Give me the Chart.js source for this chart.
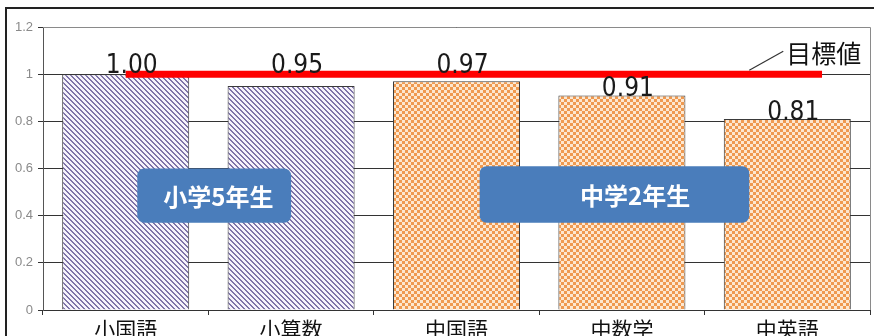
<!DOCTYPE html>
<html>
<head>
<meta charset="utf-8">
<script src="https://cdn.jsdelivr.net/npm/chart.js@4.4.1/dist/chart.umd.min.js"></script>
<style>
    html, body { margin: 0; padding: 0; background: #fff; overflow: hidden; }
    #wrap { position: relative; width: 874px; height: 336px; }
</style>
</head>
<body>
<div id="wrap"><canvas id="chart_scores"></canvas></div>
<script>
'use strict';

// data
const subjects = ['小国語', '小算数', '中国語', '中数学', '中英語'];
const scores = [1.00, 0.95, 0.97, 0.91, 0.81];
const scoreLabels = ['1.00', '0.95', '0.97', '0.91', '0.81'];
const grades = ['小学5年生', '小学5年生', '中学2年生', '中学2年生', '中学2年生'];
const targetValue = 1.0;
const targetLabel = '目標値';
const yTickLabels = {'0': '0', '0.2': '0.2', '0.4': '0.4', '0.6': '0.6', '0.8': '0.8', '1': '1', '1.2': '1.2'};

// look of the annotations (category units on x, values on y)
const TARGET_SPAN = [0, 4.21];
const GROUP_BOXES = {
    '小学5年生': {from: 0.07, to: 1.0, textAt: 0.56, top: 0.6, bottom: 0.37},
    '中学2年生': {from: 2.14, to: 3.77, textAt: 3.08, top: 0.61, bottom: 0.37}
};
const COLORS = {
    stripe: '#7f74a9',
    stripeBg: '#f6f3fb',
    checker: '#ef9950',
    checkerBg: '#fde7cf',
    box: '#4a7dbb',
    red: '#ff0000'
};
const NUM_FONT = '"Liberation Sans Narrow", "DejaVu Sans Condensed", sans-serif';
const JP_FONT = '"Noto Sans CJK JP", "Noto Sans", sans-serif';

function makePattern(period, paint) {
    let c = document.createElement('canvas');
    c.width = period;
    c.height = period;
    let g = c.getContext('2d');
    for (let x = 0; x < period; x++) {
        for (let y = 0; y < period; y++) {
            g.fillStyle = paint(x, y);
            g.fillRect(x, y, 1, 1);
        }
    }
    return g.createPattern(c, 'repeat');
}

let stripes = makePattern(5, (x, y) => ((x - y + 10) % 5) < 2 ? COLORS.stripe : COLORS.stripeBg),
    checker = makePattern(6, (x, y) => ((Math.floor(x / 3) + Math.floor(y / 3)) % 2) ? COLORS.checker : COLORS.checkerBg);

let barFills = grades.map(g => g === grades[0] ? stripes : checker);

const framePlugin = {
    id: 'frame',
    beforeDraw(chart) {
        let ctx = chart.ctx;
        ctx.save();
        ctx.fillStyle = '#fff';
        ctx.fillRect(0, 0, chart.width, chart.height);
        ctx.strokeStyle = '#222';
        ctx.lineWidth = 2;
        ctx.beginPath();
        ctx.moveTo(6, chart.height);
        ctx.lineTo(6, 8);
        ctx.lineTo(chart.width, 8);
        ctx.stroke();
        ctx.restore();
    },
    beforeDatasetsDraw(chart) {
        let {ctx, chartArea} = chart;
        ctx.save();
        ctx.strokeStyle = '#8a8a8a';
        ctx.lineWidth = 1;
        ctx.beginPath();
        ctx.moveTo(chartArea.left, chartArea.top + 0.5);
        ctx.lineTo(chartArea.right + 0.5, chartArea.top + 0.5);
        ctx.lineTo(chartArea.right + 0.5, chartArea.bottom);
        ctx.stroke();
        ctx.restore();
    }
};

const labelPlugin = {
    id: 'labels',
    afterDatasetsDraw(chart) {
        let ctx = chart.ctx,
            x = chart.scales.x,
            y = chart.scales.y,
            meta = chart.getDatasetMeta(1),
            yRef = y.getPixelForValue(targetValue);
        ctx.save();
        // value labels: the ones close under the target sit above the red line
        ctx.font = '26px ' + NUM_FONT;
        ctx.textAlign = 'center';
        ctx.textBaseline = 'alphabetic';
        ctx.fillStyle = '#1a1a1a';
        meta.data.forEach((bar, i) => {
            let ty = bar.y - yRef < 15 ? yRef - 1 : bar.y + 1;
            ctx.fillText(scoreLabels[i], bar.x + 6, ty);
        });
        // target label with leader
        let lx = x.getPixelForValue(3.77);
        ctx.strokeStyle = '#333';
        ctx.lineWidth = 1.2;
        ctx.beginPath();
        ctx.moveTo(lx, yRef - 4);
        ctx.lineTo(lx + 34, yRef - 23);
        ctx.stroke();
        ctx.font = '25px ' + JP_FONT;
        ctx.textAlign = 'left';
        ctx.textBaseline = 'middle';
        ctx.fillStyle = '#111';
        ctx.fillText(targetLabel, lx + 37, yRef - 21);
        // grade boxes
        [...new Set(grades)].forEach(g => {
            let b = GROUP_BOXES[g],
                x0 = x.getPixelForValue(b.from),
                x1 = x.getPixelForValue(b.to),
                y0 = y.getPixelForValue(b.top),
                y1 = y.getPixelForValue(b.bottom);
            ctx.fillStyle = COLORS.box;
            ctx.beginPath();
            ctx.roundRect(x0, y0, x1 - x0, y1 - y0, 7);
            ctx.fill();
            ctx.fillStyle = '#fff';
            ctx.font = 'bold 24px ' + JP_FONT;
            ctx.textAlign = 'center';
            ctx.textBaseline = 'middle';
            ctx.fillText(g, x.getPixelForValue(b.textAt), (y0 + y1) / 2 + 1);
        });
        ctx.restore();
    }
};

let ctx = document.getElementById('chart_scores').getContext('2d');
window.ChartScores = new Chart(ctx, {
    type: 'bar',
    data: {
        labels: subjects,
        datasets: [{
            type: 'line',
            label: targetLabel,
            data: TARGET_SPAN.map(v => ({x: v, y: targetValue})),
            xAxisID: 'xt',
            borderColor: COLORS.red,
            borderWidth: 7,
            borderCapStyle: 'butt',
            pointRadius: 0,
            fill: false,
            order: 0
        }, {
            label: 'スコア',
            data: scores,
            xAxisID: 'x',
            grouped: false,
            backgroundColor: barFills,
            borderColor: '#3a3a3a',
            borderWidth: 1,
            borderSkipped: 'bottom',
            categoryPercentage: 1,
            barPercentage: 0.768,
            order: 1
        }]
    },
    options: {
        responsive: true,
        maintainAspectRatio: false,
        animation: false,
        events: [],
        layout: {padding: {left: 0, top: 27, right: 4, bottom: 0}},
        plugins: {legend: {display: false}, tooltip: {enabled: false}},
        scales: {
            x: {
                afterFit: s => { s.height = 26; },
                grid: {drawOnChartArea: false, tickLength: 5, color: '#333', offset: true},
                border: {display: true, color: '#333'},
                ticks: {color: '#111', padding: 1, font: {family: JP_FONT, size: 21}}
            },
            xt: {
                type: 'linear',
                display: false,
                offset: false,
                min: -0.5,
                max: subjects.length - 0.5
            },
            y: {
                min: 0,
                max: 1.2,
                afterFit: s => { s.width = 43; },
                grid: {color: '#333', tickLength: 5},
                border: {display: true, color: '#555'},
                ticks: {
                    stepSize: 0.2,
                    padding: 5,
                    color: '#8a8a8a',
                    font: {family: 'Liberation Sans', size: 13},
                    callback: v => yTickLabels[String(Math.round(v * 10) / 10)]
                }
            }
        }
    },
    plugins: [framePlugin, labelPlugin]
});
</script>
</body>
</html>
